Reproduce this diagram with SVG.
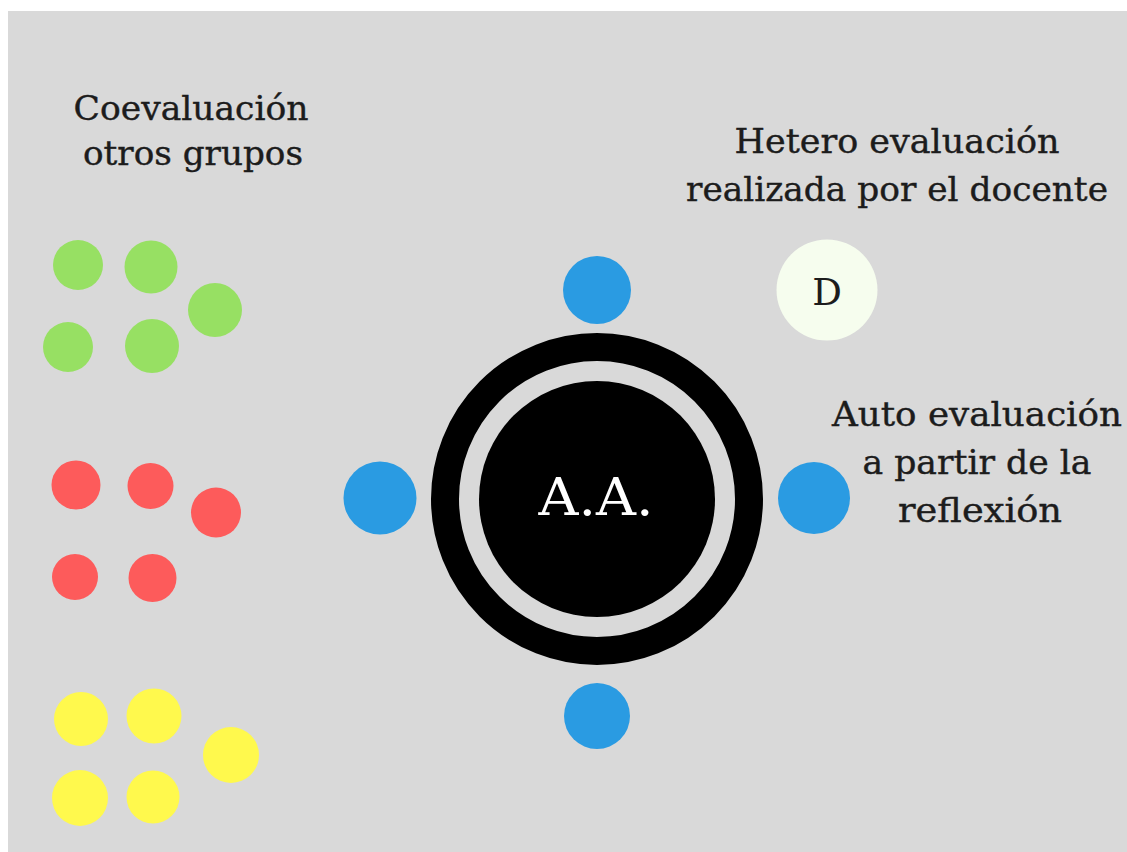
<svg xmlns="http://www.w3.org/2000/svg" width="1127" height="852" viewBox="0 0 1127 852">
<style>
.t{font-family:"DejaVu Serif","Liberation Serif",serif;fill:#1c1c1c;stroke:#1c1c1c;stroke-width:0.4;font-size:34px;text-anchor:middle}
.g{fill:#97e063}.r{fill:#fd5b5b}.y{fill:#fff94d}.b{fill:#2a9be2}
</style>
<rect width="1127" height="852" fill="#ffffff"/>
<rect x="8" y="11" width="1119" height="841" fill="#d9d9d9"/>
<g id="label-coevaluacion">
<text class="t" x="191" y="120" textLength="235" lengthAdjust="spacingAndGlyphs">Coevaluación</text>
<text class="t" x="193" y="165" textLength="220" lengthAdjust="spacingAndGlyphs">otros grupos</text>
</g>
<g id="label-hetero">
<text class="t" x="897" y="153" textLength="325" lengthAdjust="spacingAndGlyphs">Hetero evaluación</text>
<text class="t" x="897" y="201" textLength="422" lengthAdjust="spacingAndGlyphs">realizada por el docente</text>
</g>
<g id="label-auto">
<text class="t" x="977" y="426" textLength="290" lengthAdjust="spacingAndGlyphs">Auto evaluación</text>
<text class="t" x="977" y="474" textLength="229" lengthAdjust="spacingAndGlyphs">a partir de la</text>
<text class="t" x="980" y="522" textLength="164" lengthAdjust="spacingAndGlyphs">reflexión</text>
</g>
<g id="group-green">
<circle class="g" cx="78" cy="265" r="25"/>
<circle class="g" cx="151" cy="267" r="26.5"/>
<circle class="g" cx="215" cy="310" r="27"/>
<circle class="g" cx="68" cy="347" r="25"/>
<circle class="g" cx="152" cy="346" r="27"/>
</g>
<g id="group-red">
<circle class="r" cx="76" cy="485" r="24.5"/>
<circle class="r" cx="150.5" cy="486" r="23"/>
<circle class="r" cx="216" cy="512.5" r="25"/>
<circle class="r" cx="75" cy="577" r="23"/>
<circle class="r" cx="152.5" cy="578" r="24"/>
</g>
<g id="group-yellow">
<circle class="y" cx="81" cy="719" r="27"/>
<circle class="y" cx="154" cy="716" r="27.5"/>
<circle class="y" cx="231" cy="755" r="28"/>
<circle class="y" cx="80" cy="798" r="28"/>
<circle class="y" cx="153" cy="797" r="26.5"/>
</g>
<g id="center-aa">
<circle cx="597" cy="499" r="152" fill="none" stroke="#000" stroke-width="28"/>
<circle cx="597" cy="499" r="118" fill="#000"/>
<text x="596" y="515" font-family="DejaVu Serif, Liberation Serif, serif" font-size="52" fill="#fff" text-anchor="middle" textLength="115" lengthAdjust="spacingAndGlyphs">A.A.</text>
</g>
<g id="blue-top"><circle class="b" cx="597" cy="290" r="34"/></g>
<g id="blue-left"><circle class="b" cx="380" cy="498" r="36.5"/></g>
<g id="blue-right"><circle class="b" cx="814" cy="498" r="36"/></g>
<g id="blue-bottom"><circle class="b" cx="597" cy="716" r="33"/></g>
<g id="docente">
<circle cx="827" cy="290" r="50.5" fill="#f6fdee"/>
<text x="827" y="305" font-family="DejaVu Serif, Liberation Serif, serif" font-size="37" fill="#1c1c1c" text-anchor="middle">D</text>
</g>
<g id="connectors"></g>
</svg>
